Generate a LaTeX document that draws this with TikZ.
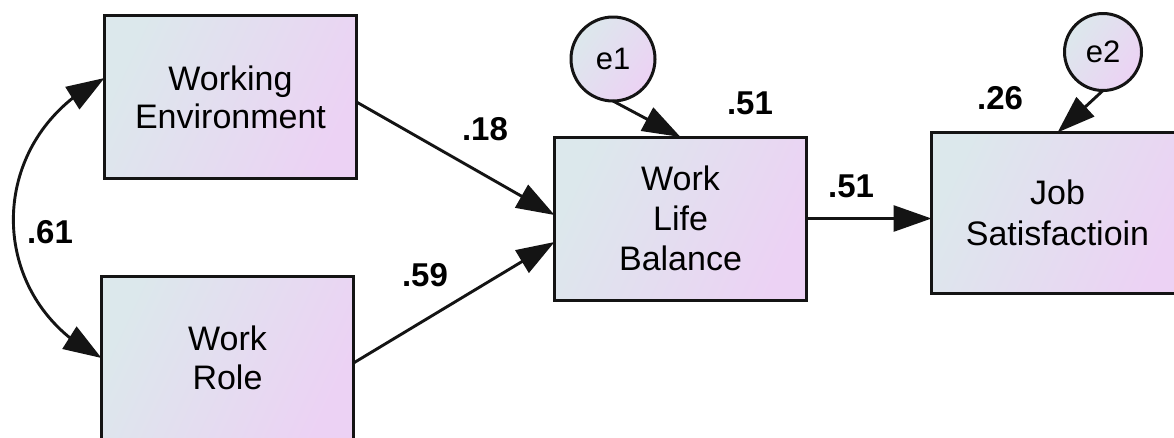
\documentclass[tikz,border=0pt]{standalone}
\usepackage{fontspec}
\setmainfont{Liberation Sans}
\usetikzlibrary{arrows.meta,bending,shapes.geometric}
\definecolor{fillA}{RGB}{220,232,236}
\definecolor{fillB}{RGB}{236,210,244}
\definecolor{ink}{RGB}{20,20,20}
\begin{document}
\begin{tikzpicture}[x=1pt,y=-1pt,
  obs/.style={draw=ink, line width=3pt, rectangle, minimum width=252pt, minimum height=163pt,
    inner sep=0pt, outer sep=0pt, top color=fillA, bottom color=fillB, shading angle=65,
    align=center, font=\fontsize{34}{38}\selectfont},
  err/.style={draw=ink, line width=3pt, circle, inner sep=0pt, outer sep=0pt,
    top color=fillA, bottom color=fillB, shading angle=55, font=\fontsize{31}{34}\selectfont},
  lbl/.style={inner sep=0pt, font=\bfseries\fontsize{33}{36}\selectfont},
  pth/.style={draw=ink, line width=2.9pt, -{Triangle[length=38pt,width=26pt]}},
  cov/.style={draw=ink, line width=2.9pt, {Triangle[length=38pt,width=26pt]}-{Triangle[length=38pt,width=26pt]}}
]
\useasboundingbox (0,0) rectangle (1174,437);
\clip (0,0) rectangle (1174,437);
\fill[white] (0,0) rectangle (1174,437);

\node[obs] (we)  at (230.5,97)   {Working\\Environment};
\node[obs, font=\fontsize{34}{39}\selectfont] (wr)  at (227.5,358)  {Work\\Role};
\node[obs, font=\fontsize{34}{40}\selectfont] (wlb) at (680.5,218.5) {Work\\Life\\Balance};
\node[obs, minimum height=161pt, font=\fontsize{34}{41}\selectfont] (js)  at (1057.5,213) {Job\\Satisfactioin};

\node[err, minimum size=84pt] (e1) at (613,59)  {e1};
\node[err, minimum size=77pt] (e2) at (1103,52) {e2};

\draw[pth] ([yshift=-5pt]we.east) -- ([yshift=3.5pt]wlb.west);
\draw[pth] ([yshift=-5pt]wr.east) -- ([yshift=-23.5pt]wlb.west);
\draw[pth] (wlb.east) -- (wlb.east -| js.west);
\draw[pth] (e1.south) -- (wlb.north);
\draw[pth] (e2.south) -- (js.north);
\draw[cov] ([yshift=19pt]we.west) .. controls (-16.5,137.75) and (-16.5,299.75) .. (wr.west);

\node[lbl] (l61) at (50,232)  {.61};
\node[lbl] (l18) at (485,129) {.18};
\node[lbl] (l59) at (425,275) {.59};
\node[lbl] (l51a) at (750,103) {.51};
\node[lbl] (l51b) at (851,186) {.51};
\node[lbl] (l26) at (1000,98) {.26};
\end{tikzpicture}
\end{document}
